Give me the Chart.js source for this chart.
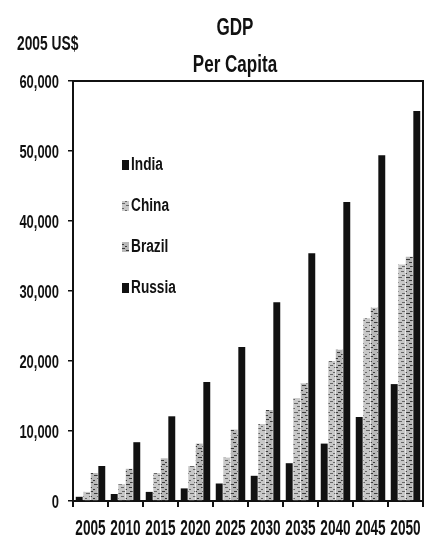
<!DOCTYPE html>
<html>
<head>
    <title>GDP Per Capita</title>
    <script src="https://cdn.jsdelivr.net/npm/chart.js@4.4.2/dist/chart.umd.min.js"></script>
    <style>
        html, body {
            margin: 0;
            background: #fff;
        }
        #chart-container {
            width: 430px;
            height: 540px;
        }
    </style>
</head>
<body>
    <div id="chart-container">
        <canvas id="gdpChart" width="430" height="540"></canvas>
    </div>
    <script>
        // GDP per capita, 2005 US$
        const years = ['2005', '2010', '2015', '2020', '2025', '2030', '2035', '2040', '2045', '2050'];
        const india  = [600, 1000, 1300, 1800, 2500, 3600, 5400, 8200, 12000, 16700];
        const china  = [1300, 2400, 4000, 5000, 6200, 11000, 14700, 20000, 26100, 33800];
        const brazil = [4000, 4600, 6100, 8200, 10200, 13000, 16800, 21600, 27600, 34900];
        const russia = [5000, 8400, 12100, 17000, 22000, 28400, 35400, 42700, 49400, 55700];
        const yTicks = [0, 10000, 20000, 30000, 40000, 50000, 60000];

        const FONT = "'Liberation Sans', Arial, sans-serif";
        const INK = '#111';

        const canvas = document.getElementById('gdpChart');
        const ctx = canvas.getContext('2d');

        // light grey fill with short dark dashes, like a halftone print
        function speckle(base, dash) {
            const c = document.createElement('canvas');
            c.width = 8;
            c.height = 9;
            const g = c.getContext('2d');
            g.fillStyle = base;
            g.fillRect(0, 0, 8, 9);
            g.fillStyle = dash;
            g.fillRect(1, 1, 3, 1);
            g.fillRect(5, 3, 2, 1);
            g.fillRect(2, 5, 3, 1);
            g.fillRect(0, 7, 2, 1);
            g.fillRect(6, 7, 2, 1);
            return ctx.createPattern(c, 'repeat');
        }

        // no narrow bold face is installed, so squeeze a bold one sideways
        function narrowText(ctx, text, x, y, size, squeeze, align) {
            ctx.save();
            ctx.translate(x, y);
            ctx.scale(squeeze, 1);
            ctx.font = `bold ${size}px ${FONT}`;
            ctx.textAlign = align;
            ctx.textBaseline = 'alphabetic';
            ctx.fillStyle = INK;
            ctx.fillText(text, 0, 0);
            ctx.restore();
        }

        // frame, titles, tick labels and the legend inside the plot
        const decorations = {
            id: 'decorations',
            afterDraw(chart) {
                const { ctx, chartArea: a, scales } = chart;
                ctx.save();
                ctx.strokeStyle = INK;
                ctx.lineWidth = 2;
                ctx.beginPath();
                ctx.moveTo(a.left, a.top);
                ctx.lineTo(a.right, a.top);
                ctx.lineTo(a.right, a.bottom);
                ctx.stroke();
                ctx.restore();

                narrowText(ctx, 'GDP', 235, 35, 24, 0.71, 'center');
                narrowText(ctx, 'Per Capita', 235, 72, 24, 0.71, 'center');
                narrowText(ctx, '2005 US$', 17, 50, 20, 0.69, 'left');

                chart.data.labels.forEach((label, i) => {
                    narrowText(ctx, label, scales.x.getPixelForValue(i), 535, 22, 0.62, 'center');
                });
                yTicks.forEach(v => {
                    narrowText(ctx, v.toLocaleString('en-US'), 59, scales.y.getPixelForValue(v) + 6.5, 18.5, 0.7, 'right');
                });

                chart.data.datasets.forEach((ds, i) => {
                    const base = 170 + i * 41;
                    ctx.fillStyle = ds.backgroundColor;
                    ctx.fillRect(122, base - 10, 7, 10);
                    narrowText(ctx, ds.label, 131, base, 18, 0.76, 'left');
                });
            }
        };

        new Chart(ctx, {
            type: 'bar',
            data: {
                labels: years,
                datasets: [
                    { label: 'India', data: india, backgroundColor: INK },
                    { label: 'China', data: china, backgroundColor: speckle('#c8c8c8', '#666') },
                    { label: 'Brazil', data: brazil, backgroundColor: speckle('#b8b8b8', '#3a3a3a') },
                    { label: 'Russia', data: russia, backgroundColor: INK }
                ]
            },
            options: {
                responsive: false,
                animation: false,
                layout: {
                    padding: { top: 81, right: 7, left: 0, bottom: 0 }
                },
                datasets: {
                    bar: {
                        categoryPercentage: 0.86,
                        barPercentage: 0.92
                    }
                },
                scales: {
                    x: {
                        afterFit: scale => { scale.height = 39; },
                        border: { display: true, color: INK, width: 2 },
                        grid: {
                            offset: true,
                            drawOnChartArea: false,
                            color: INK,
                            lineWidth: 2,
                            tickLength: 6
                        },
                        ticks: { display: false }
                    },
                    y: {
                        min: 0,
                        max: 60000,
                        afterFit: scale => { scale.width = 73; },
                        afterBuildTicks: scale => {
                            scale.ticks = yTicks.map(v => ({ value: v }));
                        },
                        border: { display: true, color: INK, width: 2 },
                        grid: {
                            drawOnChartArea: false,
                            color: INK,
                            lineWidth: 1.5,
                            tickLength: 5
                        },
                        ticks: { display: false }
                    }
                },
                plugins: {
                    legend: { display: false },
                    tooltip: { enabled: false }
                }
            },
            plugins: [decorations]
        });
    </script>
</body>
</html>
